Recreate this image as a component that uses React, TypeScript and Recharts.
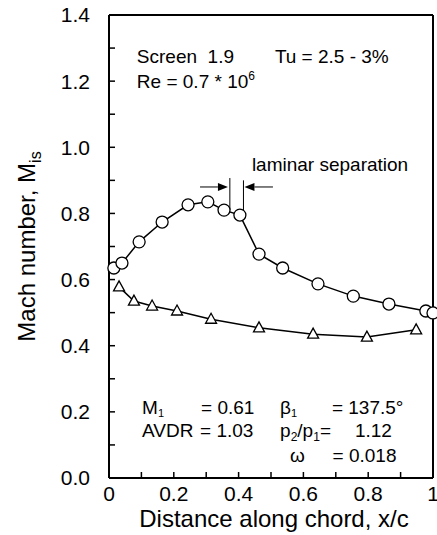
import { LineChart, Line, XAxis, YAxis, ReferenceDot, ReferenceLine } from "recharts"

// suction side (circles) and pressure side (triangles)
const circleX = [0.015, 0.04, 0.093, 0.164, 0.244, 0.305, 0.355, 0.404, 0.463, 0.536, 0.645, 0.754, 0.864, 0.978, 1.0]
const circleM = [0.635, 0.65, 0.714, 0.774, 0.826, 0.835, 0.81, 0.795, 0.677, 0.635, 0.587, 0.55, 0.526, 0.505, 0.499]
const triangleX = [0.031, 0.077, 0.133, 0.21, 0.315, 0.463, 0.63, 0.796, 0.948]
const triangleM = [0.578, 0.535, 0.52, 0.505, 0.48, 0.454, 0.435, 0.426, 0.448]

const xTicks = [0, 0.1, 0.2, 0.3, 0.4, 0.5, 0.6, 0.7, 0.8, 0.9, 1]
const yTicks = [0, 0.1, 0.2, 0.3, 0.4, 0.5, 0.6, 0.7, 0.8, 0.9, 1.0, 1.1, 1.2, 1.3, 1.4]

const FONT = "'Liberation Sans', Arial, Helvetica, sans-serif"
const NOTE_SIZE = 19

const circleData = circleX.map((x, i) => ({ x, m: circleM[i] }))
const triangleData = triangleX.map((x, i) => ({ x, m: triangleM[i] }))

const isMajor = (v: number) => Math.round(v * 10) % 2 === 0
const fmtX = (v: number) => (v === 0 ? "0" : v === 1 ? "1" : v.toFixed(1))
const fmtY = (v: number) => v.toFixed(1)

// only every other tick gets a label
const XTick = (props: any) => {
  const { x, y, payload } = props
  if (!isMajor(payload.value)) return <g />
  return (
    <text x={x} y={y} dy="0.71em" textAnchor="middle" fontSize={21} fontFamily={FONT} fill="#000">
      {fmtX(payload.value)}
    </text>
  )
}

const YTick = (props: any) => {
  const { x, y, payload } = props
  if (!isMajor(payload.value)) return <g />
  return (
    <text x={x} y={y} dy="0.355em" textAnchor="end" fontSize={21} fontFamily={FONT} fill="#000">
      {fmtY(payload.value)}
    </text>
  )
}

const TriangleDot = (props: any) => {
  const { cx, cy, index } = props
  if (cx == null || cy == null) return <g key={index} />
  return (
    <polygon
      key={index}
      points={`${cx},${cy - 6} ${cx - 5.5},${cy + 4} ${cx + 5.5},${cy + 4}`}
      fill="#fff"
      stroke="#000"
      strokeWidth={1.3}
    />
  )
}

const arrowShape = (p: any) => {
  const { x1, y1, x2, y2 } = p
  const dx = x2 - x1
  const dy = y2 - y1
  const len = Math.hypot(dx, dy) || 1
  const ux = dx / len
  const uy = dy / len
  const hl = 10
  const hw = 4
  const bx = x2 - ux * hl
  const by = y2 - uy * hl
  return (
    <g>
      <line x1={x1} y1={y1} x2={bx} y2={by} stroke="#000" strokeWidth={1} />
      <polygon
        points={`${x2},${y2} ${bx - uy * hw},${by + ux * hw} ${bx + uy * hw},${by - ux * hw}`}
        fill="#000"
      />
    </g>
  )
}

// text placed at a data coordinate (left end of baseline)
const note = (key: string, x: number, y: number, content: any) => (
  <ReferenceDot
    key={key}
    x={x}
    y={y}
    r={0}
    isFront
    shape={(p: any) => (
      <text
        x={p.cx}
        y={p.cy}
        fontSize={NOTE_SIZE}
        fontFamily={FONT}
        fill="#000"
        xmlSpace="preserve"
        style={{ whiteSpace: "pre" }}
      >
        {content}
      </text>
    )}
  />
)

export default function App() {
  return (
    <div style={{ position: "absolute", left: 0, top: 0 }}>
      <LineChart
        width={437}
        height={535}
        margin={{ top: 14, right: 3, bottom: 0, left: 0 }}
        style={{ fontFamily: FONT }}
      >
        <XAxis
          dataKey="x"
          type="number"
          domain={[0, 1]}
          ticks={xTicks}
          interval={0}
          height={57}
          tickSize={-6}
          tickMargin={14}
          stroke="#000"
          strokeWidth={2}
          tick={XTick}
          tickLine={{ stroke: "#000", strokeWidth: 1.5 }}
          label={{
            content: ({ viewBox }: any) => (
              <text
                x={viewBox.x + viewBox.width / 2 + 3}
                y={viewBox.y + 49}
                textAnchor="middle"
                fontSize={24}
                fontFamily={FONT}
                fill="#000"
              >
                Distance along chord, x/c
              </text>
            ),
          }}
        />
        <XAxis
          xAxisId="top"
          orientation="top"
          dataKey="x"
          type="number"
          domain={[0, 1]}
          ticks={xTicks}
          interval={0}
          height={1}
          tickSize={-6}
          tick={false}
          stroke="#000"
          strokeWidth={2}
          tickLine={{ stroke: "#000", strokeWidth: 1.5 }}
        />
        <YAxis
          type="number"
          domain={[0, 1.4]}
          ticks={yTicks}
          interval={0}
          width={109}
          tickSize={-6}
          tickMargin={25}
          stroke="#000"
          strokeWidth={2}
          tick={YTick}
          tickLine={{ stroke: "#000", strokeWidth: 1.5 }}
          label={{
            content: ({ viewBox }: any) => {
              const cy = viewBox.y + viewBox.height / 2
              const cx = viewBox.x + 35
              return (
                <text
                  x={cx}
                  y={cy}
                  transform={`rotate(-90 ${cx} ${cy})`}
                  textAnchor="middle"
                  fontSize={24}
                  fontFamily={FONT}
                  fill="#000"
                >
                  Mach number, M<tspan dy={6} fontSize={16}>is</tspan>
                </text>
              )
            },
          }}
        />
        <YAxis
          yAxisId="right"
          orientation="right"
          type="number"
          domain={[0, 1.4]}
          ticks={yTicks}
          interval={0}
          width={1}
          tickSize={-6}
          tick={false}
          stroke="#000"
          strokeWidth={2}
          tickLine={{ stroke: "#000", strokeWidth: 1.5 }}
        />

        <Line
          data={circleData}
          dataKey="m"
          type="linear"
          stroke="#000"
          strokeWidth={1.5}
          dot={{ r: 6, fill: "#fff", stroke: "#000", strokeWidth: 1.3 }}
          isAnimationActive={false}
        />
        <Line
          data={triangleData}
          dataKey="m"
          xAxisId="top"
          yAxisId="right"
          type="linear"
          stroke="#000"
          strokeWidth={1.5}
          dot={TriangleDot}
          isAnimationActive={false}
        />

        {/* laminar separation markers */}
        <ReferenceLine segment={[{ x: 0.281, y: 0.88 }, { x: 0.367, y: 0.88 }]} shape={arrowShape} />
        <ReferenceLine segment={[{ x: 0.506, y: 0.88 }, { x: 0.418, y: 0.88 }]} shape={arrowShape} />
        <ReferenceLine segment={[{ x: 0.373, y: 0.907 }, { x: 0.373, y: 0.81 }]} stroke="#000" strokeWidth={1} />
        <ReferenceLine segment={[{ x: 0.415, y: 0.9 }, { x: 0.415, y: 0.81 }]} stroke="#000" strokeWidth={1} />

        {note("screen", 0.086, 1.255, "Screen  1.9")}
        {note("tu", 0.512, 1.255, "Tu = 2.5 - 3%")}
        {note("re", 0.086, 1.179, (
          <>
            Re = 0.7 * 10<tspan dy={-8} fontSize={12}>6</tspan>
          </>
        ))}
        {note("lam", 0.441, 0.928, "laminar separation")}

        {note("m1", 0.102, 0.193, <>M<tspan dy={3} fontSize={11}>1</tspan></>)}
        {note("m1v", 0.284, 0.193, "= 0.61")}
        {note("avdr", 0.102, 0.124, "AVDR")}
        {note("avdrv", 0.281, 0.124, "= 1.03")}
        {note("b1", 0.528, 0.193, <>β<tspan dy={3} fontSize={11}>1</tspan></>)}
        {note("b1v", 0.688, 0.193, "= 137.5°")}
        {note("p21", 0.528, 0.124, (
          <>
            p<tspan dy={4} fontSize={12}>2</tspan>
            <tspan dy={-4}>/p</tspan>
            <tspan dy={4} fontSize={12}>1</tspan>
            <tspan dy={-4}>=</tspan>
          </>
        ))}
        {note("p21v", 0.759, 0.124, "1.12")}
        {note("om", 0.559, 0.048, "ω")}
        {note("omv", 0.69, 0.048, "= 0.018")}
      </LineChart>
    </div>
  )
}
